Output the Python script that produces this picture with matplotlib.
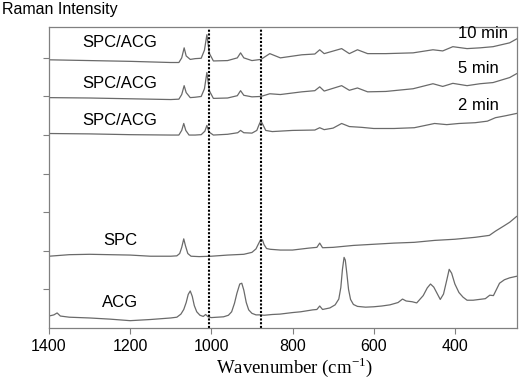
import matplotlib
matplotlib.use("Agg")
import matplotlib.pyplot as plt

# spectra (wavenumber in cm-1, offset intensity in a.u.)
acg_wn = [1400, 1388, 1380, 1372, 1350, 1300, 1250, 1200, 1150, 1100, 1085, 1075, 1068, 1062,
          1057, 1052, 1047, 1042, 1036, 1028, 1020, 1014, 1008, 1000, 985, 970, 958, 950, 943,
          937, 930, 925, 920, 914, 908, 900, 890, 880, 870, 850, 831, 800, 780, 750, 740, 733,
          726, 708, 695, 686, 681, 677, 673, 670, 666, 662, 657, 650, 640, 620, 600, 580, 560,
          540, 529, 520, 505, 494, 478, 468, 460, 452, 444, 436, 428, 420, 414, 408, 400, 390,
          380, 370, 355, 340, 325, 314, 305, 290, 278, 265, 248]
acg_int = [0.31, 0.34, 0.39, 0.31, 0.28, 0.26, 0.23, 0.19, 0.22, 0.26, 0.28, 0.36, 0.48, 0.66,
           0.87, 0.96, 0.82, 0.58, 0.42, 0.33, 0.30, 0.35, 0.29, 0.27, 0.28, 0.29, 0.33, 0.42, 0.64,
           0.90, 1.14, 1.16, 0.98, 0.66, 0.47, 0.38, 0.34, 0.34, 0.33, 0.35, 0.36, 0.40, 0.42, 0.47, 0.48, 0.57,
           0.48, 0.52, 0.60, 0.75, 1.05, 1.52, 1.83, 1.76, 1.40, 1.00, 0.74, 0.61, 0.56, 0.54, 0.55, 0.57, 0.60,
           0.66, 0.75, 0.70, 0.68, 0.65, 0.84, 1.04, 1.14, 1.06, 0.90, 0.74, 0.88, 1.24, 1.52, 1.42, 1.14, 0.92,
           0.80, 0.72, 0.72, 0.74, 0.76, 0.85, 0.84, 1.16, 1.25, 1.30, 1.34]

spc_wn = [1400, 1350, 1300, 1250, 1200, 1150, 1100, 1085, 1078, 1073, 1068, 1064, 1058, 1050,
          1030, 1000, 960, 920, 900, 890, 884, 878, 874, 870, 864, 855, 830, 800, 760, 740, 733,
          726, 700, 650, 600, 550, 500, 450, 400, 350, 315, 300, 280, 265, 248]
spc_int = [1.86, 1.90, 1.91, 1.90, 1.89, 1.86, 1.86, 1.87, 1.93, 2.09, 2.31, 2.14, 1.93, 1.86,
           1.85, 1.86, 1.89, 1.91, 1.96, 2.05, 2.18, 2.30, 2.28, 2.16, 2.06, 2.04, 2.02, 2.02, 2.07, 2.09, 2.20,
           2.08, 2.09, 2.14, 2.17, 2.20, 2.22, 2.27, 2.30, 2.35, 2.40, 2.51, 2.64, 2.74, 2.89]

mix2_wn = [1400, 1300, 1200, 1100, 1080, 1073, 1068, 1063, 1055, 1040, 1025, 1016, 1011, 1006,
           995, 960, 935, 928, 920, 900, 888, 882, 878, 873, 866, 850, 800, 745, 733, 722, 700,
           679, 660, 630, 600, 550, 500, 450, 420, 390, 350, 320, 300, 275, 248]
mix2_int = [5.04, 5.03, 5.01, 5.00, 5.00, 5.12, 5.30, 5.12, 5.00, 5.00, 5.01, 5.10, 5.25, 5.08,
            5.00, 5.02, 5.06, 5.12, 5.06, 5.05, 5.12, 5.28, 5.37, 5.27, 5.12, 5.09, 5.12, 5.13, 5.19, 5.14, 5.18,
            5.30, 5.22, 5.20, 5.17, 5.17, 5.19, 5.30, 5.27, 5.30, 5.32, 5.36, 5.45, 5.50, 5.56]

mix5_wn = [1400, 1300, 1200, 1100, 1080, 1073, 1067, 1062, 1052, 1040, 1025, 1017, 1011, 1005,
           995, 960, 936, 928, 920, 900, 878, 856, 830, 777, 745, 733, 722, 679, 660, 640, 615,
           570, 503, 454, 430, 405, 370, 338, 306, 265, 248]
mix5_int = [5.97, 5.96, 5.94, 5.92, 5.93, 6.05, 6.28, 6.10, 5.97, 5.98, 6.00, 6.20, 6.62, 6.15,
            5.95, 5.96, 6.02, 6.15, 6.03, 5.99, 6.00, 6.07, 6.05, 6.12, 6.15, 6.25, 6.14, 6.28, 6.16, 6.22, 6.12,
            6.13, 6.20, 6.33, 6.26, 6.34, 6.28, 6.33, 6.36, 6.49, 6.59]

mix10_wn = [1400, 1300, 1200, 1100, 1080, 1073, 1067, 1062, 1052, 1040, 1025, 1017, 1011, 1005,
            995, 960, 936, 928, 920, 900, 878, 856, 830, 777, 745, 733, 722, 679, 660, 640, 615,
            570, 503, 454, 430, 405, 370, 338, 306, 265, 248]
mix10_int = [6.95, 6.93, 6.91, 6.88, 6.88, 7.00, 7.26, 7.05, 6.96, 6.98, 6.99, 7.20, 7.60, 7.12,
             6.92, 6.93, 7.00, 7.13, 7.00, 6.93, 6.96, 7.11, 7.00, 7.08, 7.10, 7.21, 7.11, 7.24, 7.11, 7.21, 7.11,
             7.11, 7.13, 7.21, 7.18, 7.29, 7.24, 7.26, 7.29, 7.39, 7.49]

marker_lines = [1006, 878]

names = ["ACG", "SPC", "SPC/ACG", "SPC/ACG", "SPC/ACG"]
name_y = [0.67, 2.27, 5.37, 6.33, 7.39]
times = ["2 min", "5 min", "10 min"]
time_y = [5.76, 6.72, 7.62]

plt.rcParams['font.family'] = ['Liberation Sans', 'DejaVu Sans']

fig = plt.figure(figsize=(5.19, 3.83), dpi=100)
ax = fig.add_axes([0.0944, 0.1436, 0.9017, 0.7859])

line_col = '#6a6a6a'
for wn, y in [(acg_wn, acg_int), (spc_wn, spc_int), (mix2_wn, mix2_int),
              (mix5_wn, mix5_int), (mix10_wn, mix10_int)]:
    ax.plot(wn, y, color=line_col, lw=0.9)

for x in marker_lines:
    ax.axvline(x, color='black', ls=(0, (1, 0.8)), lw=1.5)

for n, y in zip(names, name_y):
    ax.text(1225, y, n, ha='center', va='center', fontsize=12)
for t, y in zip(times, time_y):
    ax.text(392, y, t, ha='left', va='center', fontsize=12)

ax.set_xlim(1400, 247)
ax.set_ylim(0, 7.8)
ax.set_xticks([1400, 1200, 1000, 800, 600, 400])
ax.set_yticks([1, 2, 3, 4, 5, 6, 7])
ax.set_yticklabels([])
ax.tick_params(axis='both', direction='out', length=4, width=0.8, color='#808080',
               labelsize=11.5, pad=4)
for s in ax.spines.values():
    s.set_color('#808080')
    s.set_linewidth(0.9)

fig.text(0.004, 0.976, "Raman Intensity", ha='left', va='center', fontsize=11.5)
fig.text(0.568, 0.042, "Wavenumber (cm$^{\\mathregular{-1}}$)", ha='center', va='center',
         fontsize=13.5, family=['Liberation Serif', 'DejaVu Serif'])

fig.savefig("out.png", dpi=100)
